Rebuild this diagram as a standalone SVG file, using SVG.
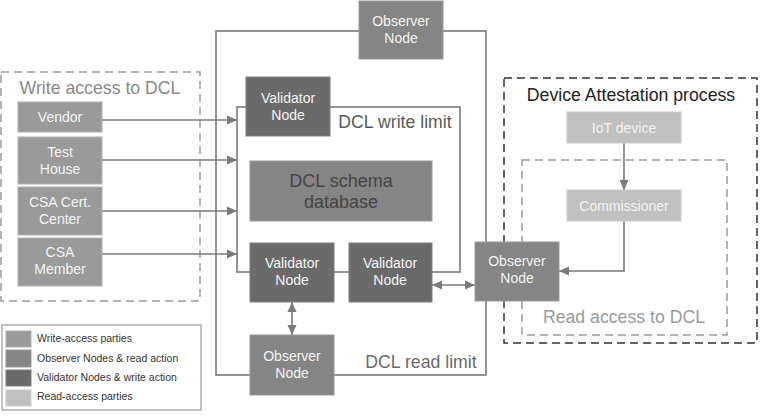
<svg xmlns="http://www.w3.org/2000/svg" width="772" height="418" viewBox="0 0 772 418">
<defs>
<marker id="ah" viewBox="0 0 10 10" refX="10" refY="5" markerWidth="10" markerHeight="10" markerUnits="userSpaceOnUse" orient="auto-start-reverse">
<path d="M0,0.5 L10,5 L0,9.5 Z" fill="#7a7a7a"/>
</marker>
</defs>
<style>
text{font-family:"Liberation Sans",Arial,sans-serif}
.wa{fill:#9a9a9a;stroke:#b0b0b0;stroke-width:1}
.ob{fill:#858585;stroke:#9a9a9a;stroke-width:1}
.va{fill:#6a6a6a;stroke:#808080;stroke-width:1}
.ra{fill:#c0c0c0;stroke:#cccccc;stroke-width:1}
.nt{fill:#f4f4f4;font-size:14px;text-anchor:middle}
.lim{fill:none;stroke:#7a7a7a;stroke-width:1.6}
.con{fill:none;stroke:#7a7a7a;stroke-width:1.6}
.lg{fill:#333;font-size:10.5px}
.tt{font-size:17.7px;text-anchor:middle}
</style>
<rect width="772" height="418" fill="#ffffff"/>
<g id="containers">
<rect x="1" y="72" width="199" height="229" fill="none" stroke="#9a9a9a" stroke-width="1.5" stroke-dasharray="8,5"/>
<text class="tt" x="100" y="94" fill="#8a8a8a">Write access to DCL</text>
<rect class="lim" x="216" y="31" width="270" height="344"/>
<text class="tt" x="421" y="368" fill="#6a6a6a">DCL read limit</text>
<rect class="lim" x="237" y="107" width="223" height="165"/>
<text class="tt" x="395" y="128" fill="#5a5a5a">DCL write limit</text>
<rect x="504" y="78" width="253" height="265" fill="none" stroke="#333333" stroke-width="1.5" stroke-dasharray="8,5"/>
<text class="tt" x="631" y="101" fill="#222">Device Attestation process</text>
<rect x="522" y="160" width="205" height="175" fill="none" stroke="#9a9a9a" stroke-width="1.5" stroke-dasharray="8,5"/>
<text class="tt" x="624" y="323" fill="#9a9a9a">Read access to DCL</text>
</g>
<g id="connectors">
<line class="con" x1="102" y1="120" x2="237" y2="120" marker-end="url(#ah)"/>
<line class="con" x1="102" y1="160" x2="237" y2="160" marker-end="url(#ah)"/>
<line class="con" x1="102" y1="211" x2="237" y2="211" marker-end="url(#ah)"/>
<line class="con" x1="102" y1="254" x2="237" y2="254" marker-end="url(#ah)"/>
<line class="con" x1="292" y1="302" x2="292" y2="335" marker-start="url(#ah)" marker-end="url(#ah)"/>
<line class="con" x1="432" y1="285" x2="475" y2="285" marker-start="url(#ah)" marker-end="url(#ah)"/>
<line class="con" x1="624" y1="143" x2="624" y2="190" marker-end="url(#ah)"/>
<polyline class="con" points="624,221 624,271 559,271" marker-end="url(#ah)"/>
</g>
<g id="vendor"><rect class="wa" x="18" y="102" width="84" height="30"/><text class="nt" x="60" y="122">Vendor</text></g>
<g id="test-house"><rect class="wa" x="18" y="137" width="84" height="47"/><text class="nt" x="60" y="157">Test</text><text class="nt" x="60" y="174">House</text></g>
<g id="csa-cert-center"><rect class="wa" x="18" y="187" width="84" height="48"/><text class="nt" x="60" y="207">CSA Cert.</text><text class="nt" x="60" y="224">Center</text></g>
<g id="csa-member"><rect class="wa" x="18" y="238" width="84" height="48"/><text class="nt" x="60" y="257">CSA</text><text class="nt" x="60" y="274">Member</text></g>
<g id="observer-top"><rect class="ob" x="359" y="1" width="84" height="58"/><text class="nt" x="401" y="26">Observer</text><text class="nt" x="401" y="43">Node</text></g>
<g id="validator-top"><rect class="va" x="246" y="77" width="84" height="59"/><text class="nt" x="288" y="103">Validator</text><text class="nt" x="288" y="120">Node</text></g>
<g id="schema-db"><rect class="ob" x="250" y="161" width="182" height="60"/><text x="341" y="187" font-size="18" fill="#444" text-anchor="middle">DCL schema</text><text x="341" y="208" font-size="18" fill="#444" text-anchor="middle">database</text></g>
<g id="validator-left"><rect class="va" x="250" y="243" width="84" height="59"/><text class="nt" x="292" y="268">Validator</text><text class="nt" x="292" y="285">Node</text></g>
<g id="validator-right"><rect class="va" x="349" y="243" width="83" height="59"/><text class="nt" x="390" y="268">Validator</text><text class="nt" x="390" y="285">Node</text></g>
<g id="observer-bottom"><rect class="ob" x="250" y="335" width="84" height="60"/><text class="nt" x="292" y="361">Observer</text><text class="nt" x="292" y="378">Node</text></g>
<g id="observer-right"><rect class="ob" x="475" y="242" width="84" height="59"/><text class="nt" x="517" y="266">Observer</text><text class="nt" x="517" y="283">Node</text></g>
<g id="iot-device"><rect class="ra" x="567" y="112" width="114" height="31"/><text class="nt" x="624" y="133">IoT device</text></g>
<g id="commissioner"><rect class="ra" x="567" y="190" width="114" height="31"/><text class="nt" x="624" y="211">Commissioner</text></g>
<g id="legend">
<rect x="2" y="325" width="199" height="85" fill="#fff" stroke="#999" stroke-width="1.2"/>
<rect class="wa" x="6" y="331" width="25" height="16"/><text class="lg" x="37" y="342">Write-access parties</text>
<rect class="ob" x="6" y="350" width="25" height="17"/><text class="lg" x="37" y="362">Observer Nodes &amp; read action</text>
<rect class="va" x="6" y="370" width="25" height="16"/><text class="lg" x="37" y="381">Validator Nodes &amp; write action</text>
<rect class="ra" x="6" y="390" width="25" height="16"/><text class="lg" x="37" y="400">Read-access parties</text>
</g>
</svg>
